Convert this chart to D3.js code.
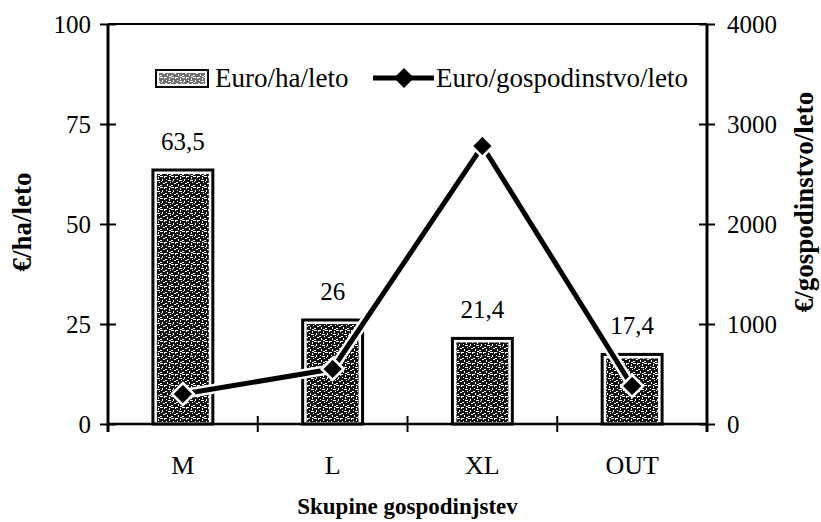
<!DOCTYPE html>
<html>
<head>
<meta charset="utf-8">
<script src="https://cdn.jsdelivr.net/npm/d3@7"></script>
<style>
  body { margin: 0; background: #fff; }
</style>
</head>
<body>
<div class="chart"></div>
<script>
var categories = ["M", "L", "XL", "OUT"];
var perHa = [63.5, 26, 21.4, 17.4];          // Euro/ha/leto (left axis)
var perHolding = [300, 550, 2780, 380];      // Euro/gospodinstvo/leto (right axis)
var leftTicks = [0, 25, 50, 75, 100];
var rightTicks = [0, 1000, 2000, 3000, 4000];
var barLabels = ["63,5", "26", "21,4", "17,4"];

const serif = "Liberation Serif";

var width = 821, height = 522;
var margin = {top: 24, right: 114, bottom: 98, left: 108};

var svg = d3.select(".chart").append("svg")
  .attr("width", width)
  .attr("height", height)
  .attr("font-family", serif);

// speckled fill like the scanned bars
var defs = svg.append("defs");
var pat = defs.append("pattern")
  .attr("id", "speckle")
  .attr("patternUnits", "userSpaceOnUse")
  .attr("width", 11).attr("height", 11);
pat.append("rect").attr("width", 11).attr("height", 11).attr("fill", "#111");
[[0,0,2,1],[4,1,1,2],[6,0,3,1],[1,3,1,1],[3,4,3,1],[8,3,1,2],[0,6,2,1],[5,6,1,1],[2,8,1,2],[6,9,2,1],[9,7,2,1],[10,0,1,2],[7,5,1,1],[4,10,2,1]]
  .forEach(function(r) {
    pat.append("rect").attr("x", r[0]).attr("y", r[1]).attr("width", r[2]).attr("height", r[3]).attr("fill", "#fff");
  });

var x = d3.scaleBand()
  .domain(categories)
  .range([margin.left, width - margin.right])
  .paddingInner(0.6)
  .paddingOuter(0.3);

var xBand = d3.scaleBand()
  .domain(categories)
  .range([margin.left, width - margin.right]);

var yL = d3.scaleLinear().domain([0, 100]).range([height - margin.bottom, margin.top]);
var yR = d3.scaleLinear().domain([0, 4000]).range([height - margin.bottom, margin.top]);

var x0 = margin.left, x1 = width - margin.right;
var y0 = yL(0), yTop = yL(100);

// bars
var bars = svg.append("g").selectAll("g")
  .data(perHa)
  .enter().append("g");

bars.append("rect")
  .attr("x", (d, i) => x(categories[i]))
  .attr("y", d => yL(d))
  .attr("width", x.bandwidth())
  .attr("height", d => y0 - yL(d))
  .attr("fill", "#fff")
  .attr("stroke", "#000")
  .attr("stroke-width", 3);

bars.append("rect")
  .attr("x", (d, i) => x(categories[i]) + 4)
  .attr("y", d => yL(d) + 4)
  .attr("width", x.bandwidth() - 8)
  .attr("height", d => Math.max(0, y0 - yL(d) - 6))
  .attr("fill", "url(#speckle)");

bars.append("text")
  .attr("x", (d, i) => x(categories[i]) + x.bandwidth() / 2)
  .attr("y", d => yL(d) - 20)
  .attr("text-anchor", "middle")
  .attr("font-family", serif)
  .attr("font-size", 25)
  .text((d, i) => barLabels[i]);

// frame: top line and axes
svg.append("line")
  .attr("x1", x0).attr("x2", x1).attr("y1", yTop).attr("y2", yTop)
  .attr("stroke", "#000").attr("stroke-width", 2);

var leftAxis = svg.append("g")
  .attr("transform", "translate(" + x0 + ",0)")
  .call(d3.axisLeft(yL).tickValues(leftTicks).tickSize(8).tickPadding(9));
leftAxis.selectAll(".tick line").attr("x2", 8).attr("x1", -8);

var rightAxis = svg.append("g")
  .attr("transform", "translate(" + x1 + ",0)")
  .call(d3.axisRight(yR).tickValues(rightTicks).tickFormat(d3.format("d")).tickSize(8).tickPadding(12));
rightAxis.selectAll(".tick line").attr("x1", -8).attr("x2", 8);

var bottomAxis = svg.append("g")
  .attr("transform", "translate(0," + y0 + ")")
  .call(d3.axisBottom(xBand).tickSize(0).tickPadding(32));
bottomAxis.select(".domain").remove();

// category separators
svg.append("g").selectAll("line")
  .data(categories.slice(1))
  .enter().append("line")
  .attr("x1", d => xBand(d)).attr("x2", d => xBand(d))
  .attr("y1", y0 - 8).attr("y2", y0 + 8)
  .attr("stroke", "#000").attr("stroke-width", 2);

svg.append("line")
  .attr("x1", x0).attr("x2", x1).attr("y1", y0).attr("y2", y0)
  .attr("stroke", "#000").attr("stroke-width", 2.5);

[leftAxis, rightAxis].forEach(function(a) {
  a.select(".domain").attr("stroke-width", 3).attr("d", "M0," + yTop + "V" + (y0 + 8));
  a.selectAll(".tick line").attr("stroke-width", 2);
  a.attr("font-family", serif).attr("font-size", 25);
});
bottomAxis.attr("font-family", serif).attr("font-size", 26);
svg.selectAll(".tick text").attr("fill", "#000");

// line series
var cx = c => xBand(c) + xBand.bandwidth() / 2;
var line = d3.line()
  .x((d, i) => cx(categories[i]))
  .y(d => yR(d));

svg.append("path")
  .datum(perHolding)
  .attr("d", line)
  .attr("fill", "none")
  .attr("stroke", "#fff")
  .attr("stroke-width", 10);

svg.append("path")
  .datum(perHolding)
  .attr("d", line)
  .attr("fill", "none")
  .attr("stroke", "#000")
  .attr("stroke-width", 5);

svg.append("g").selectAll("path")
  .data(perHolding)
  .enter().append("path")
  .attr("d", "M0,-11L11,0L0,11L-11,0Z")
  .attr("transform", (d, i) => "translate(" + cx(categories[i]) + "," + yR(d) + ")")
  .attr("fill", "#000")
  .attr("stroke", "#fff")
  .attr("stroke-width", 2.5);

// legend
var legend = svg.append("g");
legend.append("rect")
  .attr("x", 156).attr("y", 70).attr("width", 52).attr("height", 17)
  .attr("fill", "#fff").attr("stroke", "#000").attr("stroke-width", 2);
legend.append("rect")
  .attr("x", 159).attr("y", 73).attr("width", 46).attr("height", 11)
  .attr("fill", "url(#speckle)").attr("opacity", 0.6);
legend.append("text")
  .attr("x", 215).attr("y", 87)
  .attr("font-family", serif)
  .attr("font-size", 27)
  .text("Euro/ha/leto");
legend.append("line")
  .attr("x1", 373).attr("x2", 434).attr("y1", 78).attr("y2", 78)
  .attr("stroke", "#000").attr("stroke-width", 5);
legend.append("path")
  .attr("d", "M0,-10L10,0L0,10L-10,0Z")
  .attr("transform", "translate(404,78)")
  .attr("fill", "#000");
legend.append("text")
  .attr("x", 436).attr("y", 87)
  .attr("font-family", serif)
  .attr("font-size", 27)
  .text("Euro/gospodinstvo/leto");

// axis titles
svg.append("text")
  .attr("transform", "translate(31,222) rotate(-90)")
  .attr("text-anchor", "middle")
  .attr("font-family", serif)
  .attr("font-size", 27)
  .attr("font-weight", "bold")
  .text("€/ha/leto");

svg.append("text")
  .attr("transform", "translate(813,202) rotate(-90)")
  .attr("text-anchor", "middle")
  .attr("font-family", serif)
  .attr("font-size", 27)
  .attr("font-weight", "bold")
  .text("€/gospodinstvo/leto");

svg.append("text")
  .attr("x", (x0 + x1) / 2)
  .attr("y", 514)
  .attr("text-anchor", "middle")
  .attr("font-family", serif)
  .attr("font-size", 23)
  .attr("font-weight", "bold")
  .text("Skupine gospodinjstev");
</script>
</body>
</html>
